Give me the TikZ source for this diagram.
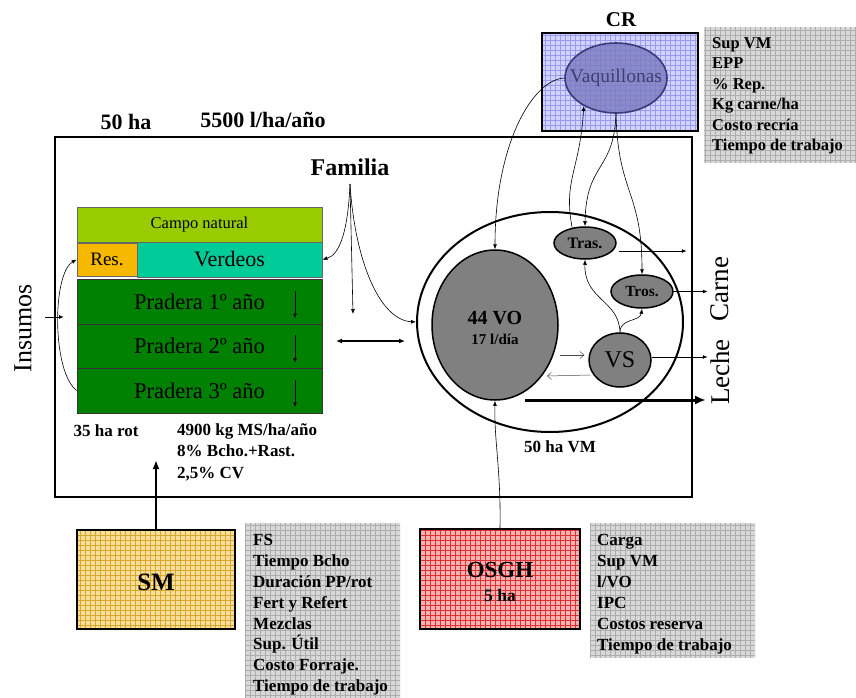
\documentclass[tikz,border=0pt]{standalone}
\usepackage{fontspec}
\setmainfont{Liberation Serif}
\usetikzlibrary{arrows.meta,shapes.geometric}
\definecolor{cnat}{HTML}{99CC00}
\definecolor{resc}{HTML}{F7B900}
\definecolor{verd}{HTML}{00CC99}
\definecolor{prad}{HTML}{008000}
\definecolor{vaqf}{HTML}{7A7AC0}
\definecolor{vaqb}{HTML}{3A3A7A}
\definecolor{vaqt}{HTML}{3E3E70}
\definecolor{crf}{HTML}{D2D2FF}
\definecolor{crg}{HTML}{9A9AEE}
\definecolor{smf}{HTML}{F6DE9C}
\definecolor{smg}{HTML}{D8A628}
\definecolor{osf}{HTML}{F4B2B2}
\definecolor{osg}{HTML}{DD3030}
\definecolor{gyf}{HTML}{D8D8D8}
\definecolor{gyg}{HTML}{ADADAD}
\definecolor{cowg}{HTML}{808080}
\newcommand{\gbox}[4]{\fill[#3] #1 rectangle #2;
  \begin{scope}\clip #1 rectangle #2; \draw[#4, line width=0.4pt, step=5pt] #1 grid #2; \end{scope}}
\tikzset{
  arr/.style={line width=0.6pt, -{Latex[length=5pt,width=4pt]}},
  openarr/.style={line width=0.5pt, draw=black!70, -{Straight Barb[length=4pt,width=7pt]}},
  band/.style={draw=black!60, line width=0.7pt, inner sep=0},
  cow/.style={ellipse, draw, line width=1.5pt, fill=cowg, inner sep=0},
  fb/.style={font=\bfseries\fontsize{#1}{#1}\selectfont},
  fr/.style={font=\fontsize{#1}{#1}\selectfont},
  listtxt/.style={anchor=north west, align=left, inner sep=0, font=\bfseries\fontsize{#1}{20.5}\selectfont}
}
\begin{document}
\begin{tikzpicture}[x=1pt,y=-1pt]
\useasboundingbox (0,0) rectangle (856,698);

% main farm rectangle
\node[draw, line width=1.5pt, minimum width=637, minimum height=360, inner sep=0] (farm) at (373.5,317) {};
\node[fb=22] (ha50) at (126,122) {50 ha};
\node[fb=22] (lha) at (263,120) {5500 l/ha/año};

% CR box
\gbox{(542,131)}{(698,33)}{crf}{crg}
\node[draw, line width=1.6pt, minimum width=156, minimum height=98, inner sep=0] (cr) at (620,82) {};
\node[fb=21] (crl) at (621,20) {CR};
\node[ellipse, draw=vaqb, line width=1.6pt, fill=vaqf, fill opacity=0.8, minimum width=102, minimum height=70, inner sep=0] (vaq) at (616,78) {};
\node[text=vaqt, fr=19.5, inner sep=0] (vaqtxt) at (vaq) {Vaquillonas};

% grey parameter boxes
\gbox{(704,163)}{(856,27)}{gyf}{gyg}
\node[listtxt=16.5] (crlist) at (712,37) {Sup VM\\EPP\\\% Rep.\\Kg carne/ha\\Costo recría\\Tiempo de trabajo};
\gbox{(245,698)}{(400,523)}{gyf}{gyg}
\node[listtxt=17, font=\bfseries\fontsize{17}{20.9}\selectfont] (smlist) at (253,534) {FS\\Tiempo Bcho\\Duración PP/rot\\Fert y Refert\\Mezclas\\Sup. Útil\\Costo Forraje.\\Tiempo de trabajo};
\gbox{(590,658)}{(755,523)}{gyf}{gyg}
\node[listtxt=17, font=\bfseries\fontsize{17}{21}\selectfont] (oslist) at (597,534) {Carga\\Sup VM\\l/VO\\IPC\\Costos reserva\\Tiempo de trabajo};

% SM box
\gbox{(77,629)}{(235,530)}{smf}{smg}
\node[draw, line width=1.6pt, minimum width=158, minimum height=99, inner sep=0] (sm) at (156,579.5) {};
\node[fb=25] (smtxt) at (156,582) {SM};
% OSGH box
\gbox{(420,629)}{(580,529)}{osf}{osg}
\node[draw, line width=1.6pt, minimum width=160, minimum height=100, inner sep=0] (osgh) at (500,579) {};
\node[fb=23] (ostxt) at (500,570) {OSGH};
\node[fb=17.5] (os5) at (500,596) {5 ha};

% land use bands
\node[band, fill=cnat, minimum width=245, minimum height=35, fr=16.5] (campo) at (199.5,224.5) {Campo natural};
\node[band, fill=resc, minimum width=60, minimum height=33, fr=19] (res) at (107,259.5) {Res.};
\node[band, fill=verd, minimum width=185, minimum height=35, fr=22] (verdeos) at (229.5,259.5) {Verdeos};
\node[band, draw=black!80, fill=prad, minimum width=245, minimum height=45, fr=22.5] (pra1) at (199.5,301.5) {Pradera 1º año};
\node[band, draw=black!80, fill=prad, minimum width=245, minimum height=44, fr=22.5] (pra2) at (199.5,346) {Pradera 2º año};
\node[band, draw=black!80, fill=prad, minimum width=245, minimum height=45, fr=22.5] (pra3) at (199.5,390.5) {Pradera 3º año};
\foreach \p in {pra1,pra2,pra3}
  \draw[line width=0.9pt, -{Latex[length=5pt,width=4pt]}] ([xshift=95.5pt,yshift=11pt]\p.center) -- ++(0,28);

\node[fb=17] (rot) at (106,431) {35 ha rot};
\node[listtxt=17, font=\bfseries\fontsize{17}{21.5}\selectfont] (msl) at (177,423) {4900 kg MS/ha/año\\8\% Bcho.+Rast.\\2,5\% CV};

% Insumos
\node[rotate=90, fr=26] (insumos) at (23,328) {Insumos};
\coordinate (ins0) at (45,317);
\coordinate (ins1) at (64,317);
\draw[line width=1pt, -{Latex[length=5pt,width=4pt]}] (ins0) -- (ins1);
\draw[arr] (pra3.west) .. controls (52,372) and (52,274) .. (res.west);

% Familia
\node[fb=24] (familia) at (350,167) {Familia};
\coordinate (fam0) at (350,184);
\coordinate (famd) at (353,314);
\draw[arr] (fam0) .. controls (348,230) and (340,255) .. (verdeos.east);
\draw[arr] (fam0) -- (famd);

% double arrow
\coordinate (dl) at (336,341);
\coordinate (dr) at (405,341);
\draw[line width=1.2pt, {Latex[length=6pt,width=5pt]}-{Latex[length=6pt,width=5pt]}] (dl) -- (dr);

% herd
\node[ellipse, draw, line width=2pt, fill=white, minimum width=266, minimum height=220, inner sep=0] (vm) at (550,322) {};
\draw[arr] (fam0) .. controls (355,262) and (380,320) .. (vm.west);
\node[cow, minimum width=126, minimum height=150] (vo) at (495,325) {};
\node[fb=20] (votxt) at (495,318) {44 VO};
\node[fb=15] (vol) at (495,339) {17 l/día};
\node[cow, minimum width=62, minimum height=32] (tras) at (585,243) {};
\node[fb=16] (trastxt) at (tras) {Tras.};
\node[cow, minimum width=62, minimum height=33] (tros) at (642,291.5) {};
\node[fb=15.5] (trostxt) at (tros) {Tros.};
\node[cow, minimum width=62, minimum height=54] (vs) at (620,360) {};
\node[fr=24] (vstxt) at (vs) {VS};
\node[fb=17] (vmtxt) at (560,447) {50 ha VM};

% CR connectors
\draw[arr] (vaq.west) .. controls (532,80) and (495,145) .. (vo.north);
\draw[arr] (tras.130) .. controls (563,180) and (580,170) .. (vaq.221);
\draw[arr] (vaq.south) .. controls (614,172) and (586,162) .. (tras.north);
\draw[arr] (vaq.south) .. controls (618,195) and (642,190) .. (tros.north);

% VS connectors
\draw[arr] (vs.north) .. controls (619,300) and (584,300) .. (tras.south);
\draw[arr] (vs.north) .. controls (620,318) and (640,322) .. (tros.south);
\coordinate (vo2vs) at (560,355);
\coordinate (vs2vo) at (547,376);
\draw[openarr] (vo2vs) -- ([xshift=-4pt,yshift=5pt]vs.west);
\draw[openarr] ([xshift=2pt,yshift=-15pt]vs.west) -- (vs2vo);

% outputs
\draw[arr, line width=0.8pt] ([shift={(2pt,-8pt)}]tras.east) -- ++(68,0);
\draw[arr, line width=0.8pt] (tros.east) -- ++(34,0);
\draw[arr, line width=0.8pt] ([yshift=3pt]vs.east) -- ++(56,0);
\coordinate (milk0) at (525,400);
\coordinate (milk1) at (706,400);
\draw[line width=3pt, -{Latex[length=11pt,width=9pt]}] (milk0) -- (milk1);
\node[rotate=90, fr=27] (carne) at (720,289) {Carne};
\node[rotate=90, fr=27] (leche) at (720,372) {Leche};

% bottom connectors
\coordinate (smtip) at (156,460);
\draw[line width=2pt, -{Latex[length=9pt,width=7pt]}] (sm.north) -- (smtip);
\draw[arr] (osgh.north) .. controls (501,470) and (494,440) .. (vo.south);
\end{tikzpicture}
\end{document}
